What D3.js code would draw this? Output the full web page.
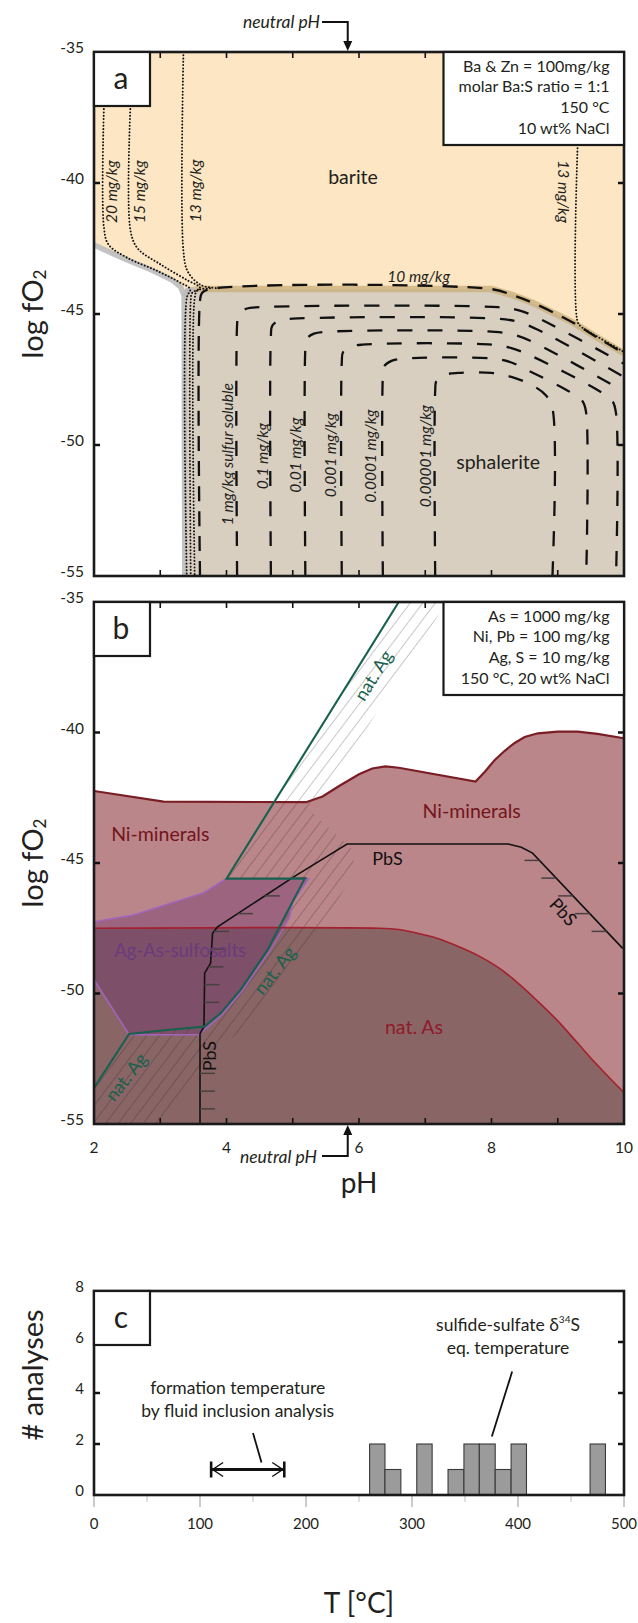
<!DOCTYPE html>
<html><head><meta charset="utf-8">
<script src="https://cdn.jsdelivr.net/npm/d3@7"></script>
<style>
body{margin:0;background:#fff}
text{font-family:Lato,"Open Sans",sans-serif;fill:#231f20}
</style></head>
<body>
<svg id="chart" width="638" height="1623"></svg>
<script>
// ---------------- DATA ----------------
const pHMajorTicks = [2,4,6,8,10];
const pHMinorTicks = [3,4,5,6,7,8,9];
const fO2Ticks = [-35,-40,-45,-50,-55];
const fO2InnerTicks = [-40,-45,-50];
const countTicks = [0,2,4,6,8];
const tempTicks = [0,100,200,300,400,500];
const tempMinor = [50,150,250,350,450];
const neutralPH = 5.83;

// panel a : barite / sphalerite
const aWhiteBoundary = [[2,-42.37],[2.44,-42.87],[2.87,-43.32],[3.18,-43.7],[3.31,-43.98],[3.36,-44.3],[3.37,-55]];
const aSphaleriteTop = [[3.37,-55],[3.37,-44.35],[3.41,-44.12],[3.52,-44.05],[8.0,-44.05],[8.31,-44.27],[8.63,-44.58],[9.24,-45.34],[9.61,-45.92],[10,-46.5]];
const aDotted20 = [[2.15,-37.06],[2.15,-41.7],[2.22,-42.35],[2.5,-42.85],[2.95,-43.35],[3.3,-43.8],[3.45,-44.05],[3.40,-44.4],[3.40,-55]];
const aDotted15 = [[2.55,-37.06],[2.55,-41.8],[2.66,-42.5],[3.0,-43.1],[3.4,-43.7],[3.6,-44.0],[3.48,-44.2],[3.46,-44.5],[3.46,-55]];
const aDotted13L = [[3.35,-35],[3.35,-42.6],[3.42,-43.4],[3.62,-43.9],[3.9,-44.02]];
const aDotted13C = [[3.75,-44.02],[3.56,-44.1],[3.52,-44.4],[3.52,-55]];
const aDotted13R = [[9.3,-38.55],[9.3,-45.3],[9.36,-45.5],[9.61,-45.88],[10,-46.45]];
const aContour10 = [[3.60,-55],[3.60,-44.5],[3.63,-44.2],[3.75,-44.05],[8.0,-44.05],[8.31,-44.27],[8.63,-44.58],[9.24,-45.34],[9.61,-45.92],[10,-46.5]];
const aContours = [
  [[4.16,-55],[4.16,-45.4],[4.18,-45.0],[4.3,-44.8],[4.5,-44.74],[8.1,-44.74],[8.4,-44.85],[8.7,-45.15],[10,-46.9]],
  [[4.67,-55],[4.67,-45.85],[4.69,-45.45],[4.8,-45.25],[5.0,-45.18],[8.1,-45.18],[8.4,-45.3],[8.7,-45.6],[10,-47.4]],
  [[5.19,-55],[5.19,-46.35],[5.21,-45.95],[5.32,-45.75],[5.5,-45.68],[8.05,-45.68],[8.35,-45.8],[8.65,-46.1],[10,-47.95]],
  [[5.74,-55],[5.74,-46.85],[5.76,-46.45],[5.87,-46.25],[6.05,-46.17],[8.0,-46.17],[8.3,-46.3],[8.6,-46.6],[9.6,-47.9],[9.82,-48.3],[9.88,-48.8],[9.88,-55]],
  [[6.36,-55],[6.36,-47.4],[6.38,-47.0],[6.5,-46.78],[6.7,-46.7],[8.0,-46.7],[8.3,-46.85],[8.55,-47.15],[9.2,-48.0],[9.38,-48.35],[9.43,-48.8],[9.43,-55]],
  [[7.15,-55],[7.15,-47.95],[7.17,-47.55],[7.3,-47.32],[7.5,-47.25],[8.0,-47.25],[8.3,-47.4],[8.6,-47.7],[8.82,-48.1],[8.92,-48.6],[8.92,-55]]
];
const aInfo = ["Ba & Zn = 100mg/kg","molar Ba:S ratio = 1:1","150 °C","10 wt% NaCl"];

// panel b : Ni / As / Ag / Pb
const bNiTop = [[2.0,-42.24],[3.05,-42.65],[5.2,-42.67],[5.45,-42.45],[5.7,-42.05],[6.0,-41.6],[6.2,-41.38],[6.4,-41.3],[6.6,-41.35],[7.76,-41.88],[7.9,-41.5],[8.05,-41.05],[8.2,-40.7],[8.35,-40.4],[8.5,-40.17],[8.7,-40.03],[9.0,-39.97],[9.3,-39.97],[9.6,-40.05],[10,-40.22]];
const bNatAsTop = [[2,-47.5],[6.3,-47.5],[6.6,-47.55],[6.9,-47.7],[7.2,-47.9],[7.5,-48.2],[7.8,-48.55],[8.1,-49.0],[8.4,-49.6],[8.7,-50.3],[9.0,-51.05],[9.3,-51.9],[9.6,-52.75],[10,-53.8]];
const bSulfosalt = [[2,-47.25],[2.6,-46.99],[3.66,-46.14],[3.99,-45.61],[5.24,-45.61],[5.0,-46.5],[4.95,-47.1],[4.66,-48.33],[4.25,-49.86],[3.95,-50.76],[3.64,-51.45],[3.58,-51.58],[2.53,-51.58],[2.0,-49.47]];
const bNatAgLine = [[6.6,-35],[4.0,-45.6],[5.18,-45.6],[4.92,-46.86],[4.62,-48.33],[4.21,-49.86],[3.91,-50.76],[3.66,-51.27],[3.1,-51.4],[2.53,-51.55],[2.0,-53.62]];
const bHatchBand = [[6.6,-35],[7.3,-35],[7.17,-35.62],[5.69,-41.56],[5.31,-43.1],[5.95,-44.6],[5.84,-45.76],[5.47,-47.26],[5.13,-48.7],[4.54,-50.75],[3.8,-52.3],[3.1,-55],[2.0,-55],[2.0,-53.62],[2.53,-51.55],[3.66,-51.27],[3.91,-50.76],[4.21,-49.86],[4.62,-48.33],[4.92,-46.86],[5.18,-45.6],[4.0,-45.6]];
const bPbS = [[3.6,-55],[3.6,-51.55],[3.66,-51.27],[3.67,-49.22],[3.76,-48.84],[3.79,-47.69],[3.86,-47.46],[5.02,-45.52],[5.82,-44.27],[8.25,-44.27],[8.45,-44.4],[8.62,-44.62],[9.98,-48.27]];
const bPbSTickLevels = [-44.9,-45.58,-46.26,-46.94,-47.62,-48.3,-48.98,-49.66,-50.34,-53.06,-53.74,-54.42];
const bInfo = ["As = 1000 mg/kg","Ni, Pb = 100 mg/kg","Ag, S = 10 mg/kg","150 °C, 20 wt% NaCl"];

// panel c : temperature histogram
const binLow  = [260,274.5,304.5,334,349,363.5,378.5,393.5,468];
const binHigh = [274.5,289.5,319,349,363.5,378.5,393.5,408,482.5];
const binCount = [2,1,2,1,2,2,1,2,2];
const fluidInclusionRange = [110.5,179.5];
const fluidInclusionLevel = 1;
const fluidPointer = [[150,2.43],[158,1.27]];
const isotopePointer = [[394.5,4.84],[375.3,2.29]];

// ---------------- SCALES ----------------
const svg = d3.select("#chart");
const X  = d3.scaleLinear().domain([2,10]).range([94,624]);
const YA = d3.scaleLinear().domain([-35,-55]).range([52,576]);
const YB = d3.scaleLinear().domain([-35,-55]).range([602,1124]);
const XC = d3.scaleLinear().domain([0,500]).range([94,624]);
const YC = d3.scaleLinear().domain([0,8]).range([1495,1291]);

const defs = svg.append("defs");
function clip(id, x0,y0,x1,y1){
  defs.append("clipPath").attr("id",id).append("rect").attr("x",x0).attr("y",y0).attr("width",x1-x0).attr("height",y1-y0);
}
clip("clipA", X(2),YA(-35),X(10),YA(-55));
clip("clipB", X(2),YB(-35),X(10),YB(-55));
const pat = defs.append("pattern").attr("id","hatch").attr("patternUnits","userSpaceOnUse")
  .attr("width",10).attr("height",10).attr("patternTransform","rotate(37)");
pat.append("line").attr("x1",0).attr("y1",0).attr("x2",0).attr("y2",10)
  .attr("stroke","#1a1a1a").attr("stroke-width",1.1).attr("stroke-opacity",0.45);

const cr = d3.curveCatmullRom.alpha(0.5);
const lineA = d3.line().x(d=>X(d[0])).y(d=>YA(d[1]));
const lineAc = d3.line().x(d=>X(d[0])).y(d=>YA(d[1])).curve(cr);
const lineB = d3.line().x(d=>X(d[0])).y(d=>YB(d[1]));
const lineBc = d3.line().x(d=>X(d[0])).y(d=>YB(d[1])).curve(cr);

function txt(g,s,x,y,o={}){
  const t=g.append("text").attr("x",x).attr("y",y).text(s)
    .attr("font-size",o.size||15).attr("text-anchor",o.anchor||"middle")
    .attr("dominant-baseline","central");
  if(o.italic) t.attr("font-style","italic");
  if(o.fill) t.style("fill",o.fill);
  if(o.rot!==undefined) t.attr("transform",`rotate(${o.rot},${x},${y})`);
  return t;
}

function frame(Y, top, bottom, withXLabels){
  const g = svg.append("g");
  pHMinorTicks.forEach(p=>{
    g.append("line").attr("x1",X(p)).attr("x2",X(p)).attr("y1",Y(top)).attr("y2",Y(top)+6).attr("stroke","#111").attr("stroke-width",1.6);
    g.append("line").attr("x1",X(p)).attr("x2",X(p)).attr("y1",Y(bottom)).attr("y2",Y(bottom)-6).attr("stroke","#111").attr("stroke-width",1.6);
  });
  fO2InnerTicks.forEach(v=>{
    g.append("line").attr("x1",X(2)).attr("x2",X(2)+6).attr("y1",Y(v)).attr("y2",Y(v)).attr("stroke","#111").attr("stroke-width",2.5);
    g.append("line").attr("x1",X(10)).attr("x2",X(10)-6).attr("y1",Y(v)).attr("y2",Y(v)).attr("stroke","#111").attr("stroke-width",2.5);
  });
  fO2Ticks.forEach(v=> txt(g, String(v), X(2)-10, Y(v)-5, {size:15.5, anchor:"end"}));
  g.append("rect").attr("x",X(2)).attr("y",Y(top)).attr("width",X(10)-X(2)).attr("height",Y(bottom)-Y(top))
    .attr("fill","none").attr("stroke","#1a1a1a").attr("stroke-width",2.6);
  if(withXLabels){
    pHMajorTicks.forEach(p=> txt(g,String(p),X(p),Y(bottom)+23,{size:15.5}));
  }
  return g;
}
function infoBox(Y, lines, bottomY){
  const g=svg.append("g");
  g.append("rect").attr("x",443.5).attr("y",Y(-35)).attr("width",X(10)-443.5).attr("height",bottomY-Y(-35))
    .attr("fill","#fff").attr("stroke","#1a1a1a").attr("stroke-width",2.2);
  lines.forEach((s,i)=> txt(g,s,609.5,Y(-35)+13+i*20.8,{size:16,anchor:"end"}));
}
function letterBox(x0,y0,letter){
  const g=svg.append("g");
  g.append("rect").attr("x",x0).attr("y",y0).attr("width",56).attr("height",54).attr("fill","#fff").attr("stroke","#1a1a1a").attr("stroke-width",2.2);
  txt(g,letter,x0+27,y0+25,{size:30});
}
function yTitle(cy, sub){
  const yl = svg.append("text").attr("transform",`translate(31,${cy}) rotate(-90)`)
    .attr("text-anchor","middle").attr("dominant-baseline","central").attr("font-size",29);
  if(sub){
    yl.append("tspan").text("log fO");
    yl.append("tspan").text("2").attr("font-size",17).attr("dy",8);
  } else yl.text("# analyses");
}

// ---------------- PANEL A ----------------
{
  const g = svg.append("g").attr("clip-path","url(#clipA)");
  g.append("rect").attr("x",X(2)).attr("y",YA(-35)).attr("width",X(10)-X(2)).attr("height",YA(-55)-YA(-35)).attr("fill","#fde6c3");
  g.append("path").attr("d",lineA(aWhiteBoundary.concat([[2,-55]]))+"Z").attr("fill","#fff");
  g.append("path").attr("d",lineA(aSphaleriteTop.concat([[10,-55]]))+"Z").attr("fill","#d9cfc1");
  g.append("path").attr("d",lineA(aWhiteBoundary)).attr("fill","none").attr("stroke","#bdbdbd").attr("stroke-width",5.5).attr("stroke-opacity",0.9);
  g.append("path").attr("d",lineA(aSphaleriteTop.slice(1,4))).attr("fill","none").attr("stroke","#bdbdbd").attr("stroke-width",5.5);
  g.append("path").attr("d",lineA(aSphaleriteTop.slice(3))).attr("fill","none").attr("stroke","#c8ad78").attr("stroke-width",6.5).attr("stroke-opacity",0.75);
  [aDotted20,aDotted15,aDotted13L,aDotted13C,aDotted13R].forEach(d=>{
    g.append("path").attr("d",lineAc(d)).attr("fill","none").attr("stroke","#111").attr("stroke-width",1.9)
     .attr("stroke-dasharray","0.1,3.2").attr("stroke-linecap","round");
  });
  g.append("path").attr("d",lineAc(aContour10)).attr("fill","none").attr("stroke","#111").attr("stroke-width",2.3).attr("stroke-dasharray","15,10");
  aContours.forEach(d=>{
    g.append("path").attr("d",lineAc(d)).attr("fill","none").attr("stroke","#111").attr("stroke-width",2.3).attr("stroke-dasharray","15,15");
  });
  const t = svg.append("g");
  txt(t,"barite",X(5.91),YA(-39.77),{size:19.5});
  txt(t,"sphalerite",X(8.1),YA(-50.64),{size:19.5});
  txt(t,"10 mg/kg",X(6.9),YA(-43.55),{size:15.5,italic:true});
  txt(t,"20 mg/kg",X(2.25),YA(-40.33),{size:15.5,italic:true,rot:-90});
  txt(t,"15 mg/kg",X(2.68),YA(-40.33),{size:15.5,italic:true,rot:-90});
  txt(t,"13 mg/kg",X(3.52),YA(-40.3),{size:15.5,italic:true,rot:-90});
  txt(t,"13 mg/kg",X(9.09),YA(-40.33),{size:15.5,italic:true,rot:90});
  txt(t,"1 mg/kg sulfur soluble",X(4.01),YA(-50.35),{size:15.5,italic:true,rot:-90});
  txt(t,"0.1 mg/kg",X(4.54),YA(-50.42),{size:15.5,italic:true,rot:-90});
  txt(t,"0.01 mg/kg",X(5.04),YA(-50.39),{size:15.5,italic:true,rot:-90});
  txt(t,"0.001 mg/kg",X(5.56),YA(-50.39),{size:15.5,italic:true,rot:-90});
  txt(t,"0.0001 mg/kg",X(6.16),YA(-50.42),{size:15.5,italic:true,rot:-90});
  txt(t,"0.00001 mg/kg",X(7.0),YA(-50.42),{size:15.5,italic:true,rot:-90});
  frame(YA,-35,-55,false);
  infoBox(YA,aInfo,145);
  letterBox(X(2),YA(-35),"a");
  const a=svg.append("g");
  txt(a,"neutral pH",320,21,{size:17.5,italic:true,anchor:"end"});
  a.append("path").attr("d",`M322,22 H${X(neutralPH)} V${YA(-35)-9}`).attr("fill","none").attr("stroke","#111").attr("stroke-width",2);
  a.append("path").attr("d",`M${X(neutralPH)-4.5},${YA(-35)-11} L${X(neutralPH)},${YA(-35)-1} L${X(neutralPH)+4.5},${YA(-35)-11} Z`).attr("fill","#111");
  yTitle((YA(-35)+YA(-55))/2, true);
}

// ---------------- PANEL B ----------------
{
  const g = svg.append("g").attr("clip-path","url(#clipB)");
  g.append("rect").attr("x",X(2)).attr("y",YB(-35)).attr("width",X(10)-X(2)).attr("height",YB(-55)-YB(-35)).attr("fill","#fff");
  g.append("path").attr("d",lineB(bNiTop.concat([[10,-55],[2,-55]]))+"Z").attr("fill","#ba8689");
  g.append("path").attr("d",lineBc(bNatAsTop)+`L${X(10)},${YB(-55)}L${X(2)},${YB(-55)}Z`).attr("fill","#8a6565");
  g.append("path").attr("d",lineB(bHatchBand)+"Z").attr("fill","url(#hatch)");
  g.append("path").attr("d",lineB(bSulfosalt)+"Z").attr("fill","#6a2a70").attr("fill-opacity",0.36)
    .attr("stroke","#a264bd").attr("stroke-width",1.6);
  g.append("path").attr("d",lineB(bNiTop)).attr("fill","none").attr("stroke","#7a1d24").attr("stroke-width",2.2);
  g.append("path").attr("d",lineBc(bNatAsTop)).attr("fill","none").attr("stroke","#a3212f").attr("stroke-width",1.6);
  g.append("path").attr("d",lineB(bPbS)).attr("fill","none").attr("stroke","#111").attr("stroke-width",1.6);
  const leftBranch = bPbS.slice(0,8), rightBranch = bPbS.slice(9);
  function crossX(branch, v){
    for(let i=0;i<branch.length-1;i++){
      const [x1,y1]=branch[i],[x2,y2]=branch[i+1];
      if((v-y1)*(v-y2)<=0 && y1!==y2){ return x1+(x2-x1)*(v-y1)/(y2-y1); }
    }
    return null;
  }
  bPbSTickLevels.forEach(v=>{
    const xl = crossX(leftBranch,v);
    if(xl!==null) g.append("line").attr("x1",X(xl)).attr("x2",X(xl)+15).attr("y1",YB(v)).attr("y2",YB(v)).attr("stroke","#4a4040").attr("stroke-width",1.5);
    const xr = crossX(rightBranch,v);
    if(xr!==null) g.append("line").attr("x1",X(xr)-15).attr("x2",X(xr)).attr("y1",YB(v)).attr("y2",YB(v)).attr("stroke","#4a4040").attr("stroke-width",1.5);
  });
  g.append("path").attr("d",lineB(bNatAgLine)).attr("fill","none").attr("stroke","#17614d").attr("stroke-width",2.1);

  const t = svg.append("g");
  txt(t,"Ni-minerals",X(3.0),YB(-43.86),{size:19.5,fill:"#74141d"});
  txt(t,"Ni-minerals",X(7.7),YB(-42.97),{size:19.5,fill:"#74141d"});
  txt(t,"nat. As",X(6.83),YB(-51.27),{size:19.5,fill:"#8e1b2b"});
  txt(t,"Ag-As-sulfosalts",X(3.30),YB(-48.33),{size:18.5,fill:"#6b3b7d"});
  txt(t,"PbS",X(6.43),YB(-44.82),{size:18,fill:"#111"});
  txt(t,"PbS",X(9.09),YB(-46.86),{size:18,fill:"#111",rot:47});
  txt(t,"PbS",X(3.74),YB(-52.4),{size:18,fill:"#111",rot:-90});
  txt(t,"nat. Ag",X(6.21),YB(-37.8),{size:18,fill:"#17614d",rot:-58});
  txt(t,"nat. Ag",X(4.72),YB(-49.1),{size:18,fill:"#17614d",rot:-52});
  txt(t,"nat. Ag",X(2.48),YB(-53.18),{size:18,fill:"#17614d",rot:-52});

  frame(YB,-35,-55,true);
  infoBox(YB,bInfo,695);
  letterBox(X(2),YB(-35),"b");
  const a=svg.append("g");
  txt(a,"neutral pH",317,1156,{size:17.5,italic:true,anchor:"end"});
  a.append("path").attr("d",`M322,1156 H${X(neutralPH)} V${YB(-55)+9}`).attr("fill","none").attr("stroke","#111").attr("stroke-width",2);
  a.append("path").attr("d",`M${X(neutralPH)-4.5},${YB(-55)+11} L${X(neutralPH)},${YB(-55)+1} L${X(neutralPH)+4.5},${YB(-55)+11} Z`).attr("fill","#111");
  txt(a,"pH",X(6),1182,{size:28});
  yTitle((YB(-35)+YB(-55))/2, true);
}

// ---------------- PANEL C ----------------
{
  const g = svg.append("g");
  const bins = binLow.map((lo,i)=>({lo,hi:binHigh[i],n:binCount[i]}));
  g.selectAll("rect.bar").data(bins).enter().append("rect").attr("class","bar")
    .attr("x",d=>XC(d.lo)).attr("width",d=>XC(d.hi)-XC(d.lo))
    .attr("y",d=>YC(d.n)).attr("height",d=>YC(0)-YC(d.n))
    .attr("fill","#9b9b9b").attr("stroke","#3a3a3a").attr("stroke-width",1.1);
  tempTicks.forEach(v=>{
    g.append("line").attr("x1",XC(v)).attr("x2",XC(v)).attr("y1",YC(0)).attr("y2",YC(0)+12).attr("stroke","#b5b5b5").attr("stroke-width",1.4);
    txt(g,String(v),XC(v),YC(0)+28,{size:15});
  });
  tempMinor.forEach(v=>{
    g.append("line").attr("x1",XC(v)).attr("x2",XC(v)).attr("y1",YC(0)).attr("y2",YC(0)+7).attr("stroke","#c8c8c8").attr("stroke-width",1.2);
  });
  [2,4,6].forEach(v=>{
    g.append("line").attr("x1",XC(0)).attr("x2",XC(0)+6).attr("y1",YC(v)).attr("y2",YC(v)).attr("stroke","#111").attr("stroke-width",2.5);
    g.append("line").attr("x1",XC(500)).attr("x2",XC(500)-6).attr("y1",YC(v)).attr("y2",YC(v)).attr("stroke","#111").attr("stroke-width",2.5);
  });
  countTicks.forEach(v=> txt(g,String(v),84,YC(v)-5,{size:15,anchor:"end"}));
  g.append("rect").attr("x",XC(0)).attr("y",YC(8)).attr("width",XC(500)-XC(0)).attr("height",YC(0)-YC(8))
    .attr("fill","none").attr("stroke","#1a1a1a").attr("stroke-width",2.6);
  const [t0,t1]=fluidInclusionRange, yy=YC(fluidInclusionLevel);
  g.append("line").attr("x1",XC(t0)).attr("x2",XC(t1)).attr("y1",yy).attr("y2",yy).attr("stroke","#111").attr("stroke-width",3);
  [t0,t1].forEach((t,i)=>{
    const x=XC(t), s=i===0?1:-1;
    g.append("line").attr("x1",x).attr("x2",x).attr("y1",yy-8).attr("y2",yy+8).attr("stroke","#111").attr("stroke-width",2.6);
    g.append("path").attr("d",`M${x+s*12},${yy-7} L${x+s*1.5},${yy} L${x+s*12},${yy+7}`).attr("fill","none").attr("stroke","#111").attr("stroke-width",1.4);
  });
  const lc = d3.line().x(d=>XC(d[0])).y(d=>YC(d[1]));
  g.append("path").attr("d",lc(fluidPointer)).attr("stroke","#111").attr("stroke-width",1.8).attr("fill","none");
  g.append("path").attr("d",lc(isotopePointer)).attr("stroke","#111").attr("stroke-width",1.8).attr("fill","none");
  txt(g,"formation temperature",XC(135.6),1387,{size:17.5});
  txt(g,"by fluid inclusion analysis",XC(135.6),1410,{size:17.5});
  const s1 = txt(g,"",XC(390.6),1324,{size:17.5});
  s1.append("tspan").text("sulfide-sulfate δ");
  s1.append("tspan").text("34").attr("font-size",10).attr("dy",-5);
  s1.append("tspan").text("S").attr("dy",5);
  txt(g,"eq. temperature",XC(390.6),1347,{size:17.5});
  letterBox(XC(0),YC(8),"c");
  txt(g,"T [°C]",XC(250),1602,{size:28});
  yTitle(1375, false);
}
</script>
</body></html>
